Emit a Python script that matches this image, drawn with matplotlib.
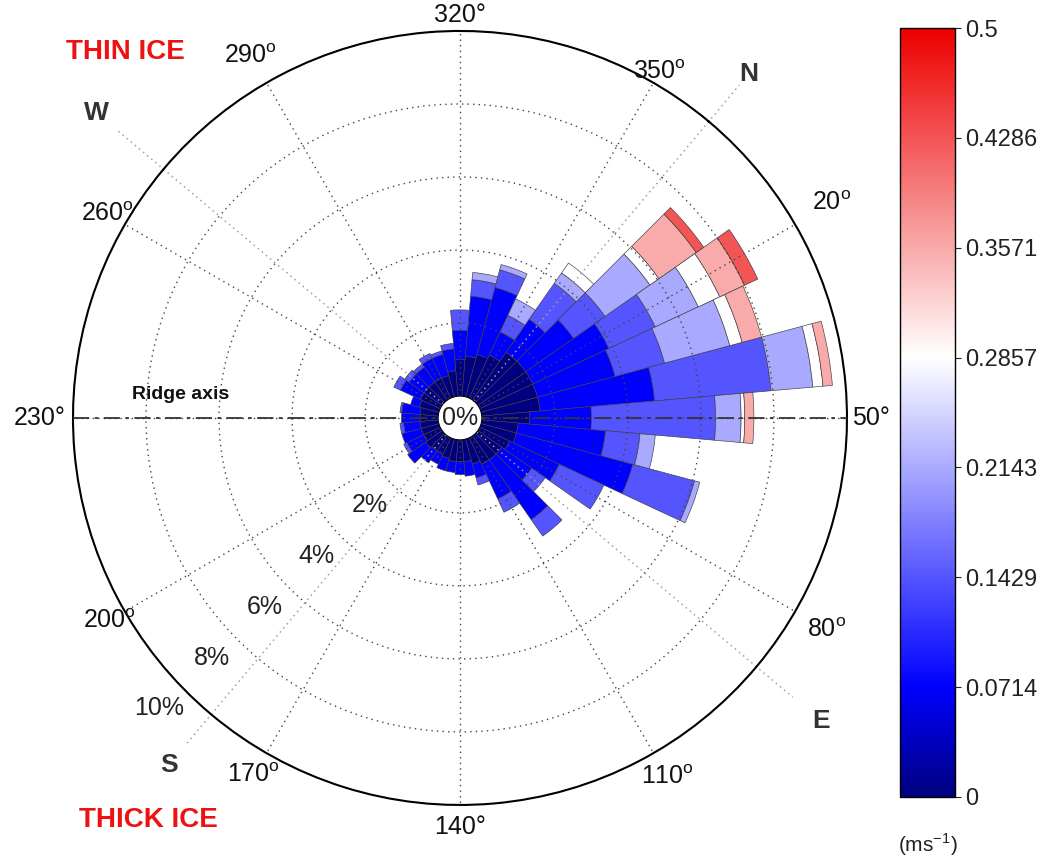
import numpy as np
import matplotlib
matplotlib.use("Agg")
import matplotlib.pyplot as plt
from matplotlib.colors import LinearSegmentedColormap, Normalize
from matplotlib.cm import ScalarMappable

plt.rcParams["font.family"] = ["Liberation Sans", "DejaVu Sans"]
plt.rcParams["mathtext.fontset"] = "custom"
plt.rcParams["mathtext.rm"] = "Liberation Sans"

# directions (deg, compass), 10 deg sectors
dirs = np.arange(0, 360, 10)
# frequency (%) of each speed class per sector
f1 = [1.6, 1.6, 1.6, 1.6, 1.6, 1.3, 1.0, 1.0, 0.9, 0.8, 0.8, 0.8,
      0.7, 0.6, 0.6, 0.6, 0.55, 0.5, 0.5, 0.55, 0.5, 0.5, 0.5, 0.5,
      0.5, 0.55, 0.6, 0.6, 0.6, 0.6, 0.6, 0.7, 1.0, 1.1, 1.2, 1.3]
f2 = [1.1, 1.6, 2.3, 2.2, 3.15, 1.7, 2.4, 3.3, 1.5, 1.0, 2.0, 1.05,
      0.4, 0.4, 0.35, 0.3, 0.35, 0.3, 0.4, 0.6, 0.5, 0.55, 0.45, 0.5,
      0.5, 0.25, 0.6, 0.5, 0.5, 0.6, 0.6, 0.6, 0.8, 1.65, 1.9, 0.7]
f3 = [1.2, 1.05, 1.4, 1.4, 3.2, 3.4, 0.95, 1.75, 1.35, 0.45, 0.55, 0.4,
      0.2, 0, 0, 0, 0, 0, 0, 0, 0.1, 0, 0.1, 0,
      0.05, 0, 0.2, 0.15, 0.1, 0.15, 0.1, 0.15, 0.56, 0.45, 0.5, 0.5]
f4 = [0.35, 1.5, 1.3, 1.85, 1.15, 0.7, 0.42, 0.15, 0, 0, 0, 0,
      0, 0, 0, 0, 0, 0, 0, 0, 0, 0, 0, 0,
      0, 0, 0, 0, 0, 0, 0, 0, 0, 0.2, 0.15, 0.5]
f5 = [0.33, 0.3, 0.65, 0.35, 0.28, 0.1] + [0] * 30
f6 = [0, 1.25, 0.75, 0.55, 0.26, 0.25] + [0] * 30
f7 = [0, 0.25, 0.4, 0, 0, 0] + [0] * 30
freqs = [f1, f2, f3, f4, f5, f6, f7]

speed_edges = np.linspace(0, 0.5, 8)
cbar_labels = [f"{v:.4f}".rstrip("0").rstrip(".") for v in speed_edges]

cmap = LinearSegmentedColormap.from_list(
    "bwr_rose", [(0, (0, 0, 0.5)), (1 / 7, (0, 0, 1)), (4 / 7, (1, 1, 1)), (1, (0.93, 0, 0))])
norm = Normalize(0, 0.5)

fig = plt.figure(figsize=(10.44, 8.6), dpi=100)
ax = fig.add_axes([0.0699, 0.064, 0.7414, 0.9], projection="polar")
ax.set_theta_direction(-1)
ax.set_theta_offset(np.deg2rad((90 + 320) % 360))
ax.set_ylim(0, 10)
ax.set_rorigin(-0.6)

th = np.deg2rad(dirs)
bottom = np.zeros(len(dirs))
for k, f in enumerate(freqs):
    f = np.array(f, dtype=float)
    m = f > 0
    ax.bar(th[m], f[m], width=np.deg2rad(10), bottom=bottom[m],
           color=cmap(norm(speed_edges[k])), edgecolor="#3c3c3c", linewidth=0.45, zorder=1)
    bottom += f

# grid
grid_angles = np.arange(230, 230 + 360, 30) % 360
ax.set_thetagrids(grid_angles, labels=[""] * len(grid_angles))
ax.set_rgrids([2, 4, 6, 8], labels=[""] * 4)
ax.grid(True, color="#454545", linestyle=(0, (1, 3)), linewidth=1.0)
ax.spines["polar"].set_linewidth(1.5)
ax.spines["polar"].set_color("black")
if "inner" in ax.spines:
    ax.spines["inner"].set_visible(False)

# angle labels
deg_sign = {230: "°", 320: "°", 50: "°", 140: "°"}
lab_r = {320: 10.45, 290: 10.85, 260: 10.55, 230: 10.9, 200: 10.5, 170: 10.7,
         140: 10.6, 110: 10.75, 80: 11.0, 50: 10.65, 20: 11.15, 350: 10.35}
for a in grid_angles:
    txt = f"{a}" + deg_sign.get(a, r"$^{\mathrm{o}}$")
    ax.text(np.deg2rad(a), lab_r[a], txt, ha="center", va="center",
            fontsize=18, color="#111111", clip_on=False)

# compass lines and letters
cardinal = {"N": (0, 11.3, 11.7), "E": (90, 11.3, 12.3), "S": (180, 11.1, 11.8), "W": (270, 11.7, 12.4)}
for name, (a, rl, rt) in cardinal.items():
    ax.plot([np.deg2rad(a)] * 2, [0, rl], color="#a0a0a0", linestyle=(0, (1, 2.5)),
            linewidth=1.1, clip_on=False, zorder=2)
    ax.text(np.deg2rad(a), rt, name, ha="center", va="center", fontsize=19,
            fontweight="bold", color="#333333", clip_on=False)

# ridge axis
ax.plot(np.deg2rad([230, 50]), [10, 10], color="#333333", linestyle=(0, (9, 3, 2, 3)),
        linewidth=1.3, zorder=3)

# radial labels
for r in [2, 4, 6, 8, 10]:
    ax.text(np.deg2rad(186), r + 0.85, f"{r}%", ha="center", va="center",
            fontsize=18, color="#222222", clip_on=False)
ax.text(0.5, 0.5, "0%", transform=ax.transAxes, ha="center", va="center",
        fontsize=18, color="#222222", zorder=5)

fig.text(0.1734, 0.5407, "Ridge axis", ha="center", va="center", fontsize=14,
         fontweight="bold", color="#111111")
fig.text(0.12, 0.9395, "THIN ICE", ha="center", va="center", fontsize=20,
         fontweight="bold", color="#ee1111")
fig.text(0.1418, 0.0465, "THICK ICE", ha="center", va="center", fontsize=20,
         fontweight="bold", color="#ee1111")

# colorbar
cax = fig.add_axes([0.862, 0.0733, 0.0527, 0.894])
cb = fig.colorbar(ScalarMappable(norm=norm, cmap=cmap), cax=cax, ticks=speed_edges)
cb.ax.set_yticklabels(cbar_labels)
cb.ax.tick_params(labelsize=17, colors="#222222", length=4)
cb.outline.set_linewidth(1.0)
fig.text(0.889, 0.0175, r"(ms$^{-1}$)", ha="center", va="center", fontsize=15, color="#222222")

fig.savefig("out.png", dpi=100)
